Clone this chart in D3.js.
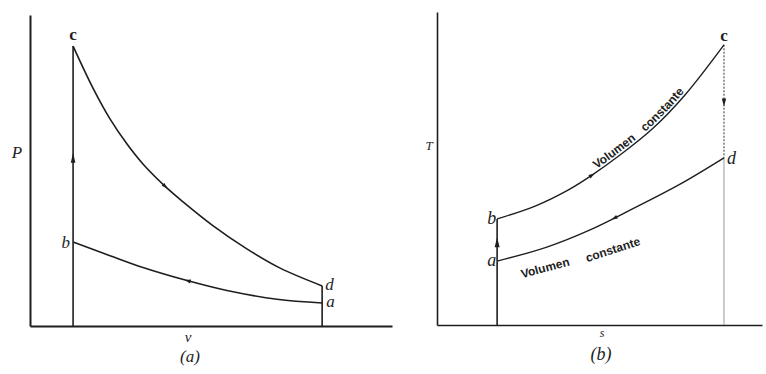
<!DOCTYPE html>
<html>
<head>
<meta charset="utf-8">
<script src="https://cdn.jsdelivr.net/npm/d3@7"></script>
<style>
  html, body { margin: 0; background: #fff; }
  svg { display: block; }
</style>
</head>
<body>
<svg id="fig" width="766" height="374"></svg>
<script>
// ---- (a) P–v diagram of the Otto cycle ----
// isentropic expansion c → d
const expansionV = [11.9, 17.4, 22.1, 26.8, 31.2, 37.8, 42.3, 50.6, 59.9, 69.1, 80.7];
const expansionP = [90.0, 76.5, 66.6, 58.5, 52.1, 44.4, 39.9, 32.2, 24.8, 18.6, 12.9];
// isentropic compression a → b
const compressionV = [80.7, 68.2, 54.4, 43.4, 31.2, 22.1, 11.9];
const compressionP = [7.4, 8.6, 11.4, 14.6, 18.8, 22.6, 27.0];
// state points a, b, c, d
const pvStateNames = ["a", "b", "c", "d"];
const pvStateV = [80.7, 11.9, 11.9, 80.7];
const pvStateP = [7.4, 27.0, 90.0, 12.9];

// ---- (b) T–s diagram of the Otto cycle ----
// constant-volume heating b → c
const heatingS = [18.5, 30.2, 40.3, 47.7, 56.3, 66.2, 76.3, 88.3];
const heatingT = [33.9, 38.0, 43.1, 47.9, 54.3, 62.6, 73.5, 89.5];
// constant-volume cooling, drawn from a (left) to d (right)
const coolingS = [18.5, 33.8, 47.1, 59.4, 74.8, 88.3];
const coolingT = [20.4, 24.9, 30.4, 36.7, 45.0, 53.4];
const tsStateNames = ["a", "b", "c", "d"];
const tsStateS = [18.5, 18.5, 88.3, 88.3];
const tsStateT = [20.4, 33.9, 89.5, 53.4];

const curveLabel = ["Volumen", "constante"];
const axisNames = { a: ["v", "P", "(a)"], b: ["s", "T", "(b)"] };

const ink = "#1e1e1e";
const svg = d3.select("#fig");
const serif = "'Liberation Serif','DejaVu Serif',serif";
const sans = "'Liberation Sans Narrow','Arial Narrow','Liberation Sans',sans-serif";

// small filled arrowhead placed part-way along a path, pointing along it
function arrowOn(g, pathSel, frac, opts = {}) {
  const node = pathSel.node();
  const L = node.getTotalLength();
  const at = L * frac;
  const p = node.getPointAtLength(at);
  const dir = opts.reverse ? -1 : 1;
  const q = node.getPointAtLength(Math.max(0, Math.min(L, at + dir * 2)));
  const ang = Math.atan2(q.y - p.y, q.x - p.x) * 180 / Math.PI;
  const len = opts.len || 7, w = opts.w || 2.2;
  g.append("path")
    .attr("d", `M${len / 2},0L${-len / 2},${-w}L${-len / 2},${w}Z`)
    .attr("transform", `translate(${p.x},${p.y}) rotate(${ang})`)
    .attr("fill", ink);
}

function bareAxes(g, x, y, width) {
  const ax = g.append("g").attr("transform", `translate(0,${y(0)})`)
    .call(d3.axisBottom(x).ticks(0).tickSizeOuter(0));
  const ay = g.append("g").attr("transform", `translate(${x(0)},0)`)
    .call(d3.axisLeft(y).ticks(0).tickSizeOuter(0));
  [ax, ay].forEach(a => a.select(".domain").attr("stroke", ink).attr("stroke-width", width));
}

// ================= panel (a) =================
{
  const x = d3.scaleLinear().domain([0, 100]).range([30, 392]);
  const y = d3.scaleLinear().domain([0, 100]).range([326, 15]);
  const g = svg.append("g");
  bareAxes(g, x, y, 2);

  const line = d3.line().x(d => x(d[0])).y(d => y(d[1])).curve(d3.curveCatmullRom.alpha(0.5));
  const st = {};
  pvStateNames.forEach((n, i) => st[n] = [pvStateV[i], pvStateP[i]]);

  const stroke = s => s.attr("fill", "none").attr("stroke", ink).attr("stroke-width", 1.6);

  // guides from the v axis up to a and b
  g.append("path").attr("d", line([[st.b[0], 0], st.b])).call(stroke);
  g.append("path").attr("d", line([[st.a[0], 0], st.a])).call(stroke);

  const ab = g.append("path").attr("d", line(d3.zip(compressionV, compressionP))).call(stroke);
  const bc = g.append("path").attr("d", line([st.b, st.c])).call(stroke);
  const cd = g.append("path").attr("d", line(d3.zip(expansionV, expansionP))).call(stroke);
  g.append("path").attr("d", line([st.d, st.a])).call(stroke);

  arrowOn(g, bc, 0.43, { len: 10, w: 2.3 });
  arrowOn(g, cd, 0.475, { len: 6, w: 2 });
  arrowOn(g, ab, 0.53, { len: 6, w: 2 });

  const lab = (t, px, py, anchor, italic = true, size = 17) =>
    g.append("text").attr("x", px).attr("y", py).attr("text-anchor", anchor)
      .attr("font-family", serif).attr("font-size", size)
      .attr("font-style", italic ? "italic" : "normal")
      .attr("font-weight", italic ? "normal" : "bold")
      .attr("fill", ink).text(t);

  lab("c", x(st.c[0]), y(st.c[1]) - 6, "middle", false, 17);
  lab("b", x(st.b[0]) - 3, y(st.b[1]) + 6, "end");
  lab("d", x(st.d[0]) + 3, y(st.d[1]) + 4, "start");
  lab("a", x(st.a[0]) + 4, y(st.a[1]) + 4, "start");

  lab(axisNames.a[1], 17, 158, "middle", true, 17);
  lab(axisNames.a[0], 188, 342, "middle", true, 15);
  lab(axisNames.a[2], 190, 362, "middle", true, 17);
}

// ================= panel (b) =================
{
  const x = d3.scaleLinear().domain([0, 100]).range([437, 762]);
  const y = d3.scaleLinear().domain([0, 100]).range([325, 12]);
  const g = svg.append("g");
  bareAxes(g, x, y, 1.6);

  const line = d3.line().x(d => x(d[0])).y(d => y(d[1])).curve(d3.curveCatmullRom.alpha(0.5));
  const st = {};
  tsStateNames.forEach((n, i) => st[n] = [tsStateS[i], tsStateT[i]]);

  const stroke = (s, w = 1.4) => s.attr("fill", "none").attr("stroke", ink).attr("stroke-width", w);

  // left vertical: axis → a → b
  g.append("path").attr("d", line([[st.a[0], 0], st.a])).call(stroke, 1.6);
  const abPath = g.append("path").attr("d", line([st.a, st.b])).call(stroke, 1.6);

  // right vertical: c → d dotted, d → axis light guide
  const cdPath = g.append("path").attr("d", line([st.c, st.d]))
    .attr("fill", "none").attr("stroke", "#555").attr("stroke-width", 1.2)
    .attr("stroke-dasharray", "2,1.5");
  g.append("path").attr("d", line([st.d, [st.d[0], 0]]))
    .attr("fill", "none").attr("stroke", "#9a9a9a").attr("stroke-width", 1);

  const heat = g.append("path").attr("id", "heatCurve")
    .attr("d", line(d3.zip(heatingS, heatingT))).call(stroke);
  const cool = g.append("path").attr("id", "coolCurve")
    .attr("d", line(d3.zip(coolingS, coolingT))).call(stroke);

  arrowOn(g, abPath, 0.45, { len: 10, w: 2.5 });
  arrowOn(g, heat, 0.36, { len: 6, w: 2 });
  arrowOn(g, cdPath, 0.51, { len: 8, w: 2.2 });
  arrowOn(g, cool, 0.5, { len: 6, w: 2, reverse: true });

  // label running along the heating curve, one word at a time
  [[curveLabel[0], "38.5%"], [curveLabel[1], "59.5%"]].forEach(([t, off]) => {
    g.append("text").attr("dy", -2.5)
      .attr("font-family", sans).attr("font-size", 12).attr("font-weight", "bold")
      .attr("fill", ink)
      .append("textPath").attr("href", "#heatCurve").attr("startOffset", off).text(t);
  });

  // label under the cooling curve
  const a0 = [x(st.a[0]), y(st.a[1])];
  [[curveLabel[0], 25, 17, -15], [curveLabel[1], 90, 1, -18]].forEach(([t, dx, dy, rot]) => {
    g.append("text").attr("transform", `translate(${a0[0] + dx},${a0[1] + dy}) rotate(${rot})`)
      .attr("font-family", sans).attr("font-size", 12).attr("font-weight", "bold")
      .attr("fill", ink).text(t);
  });

  const lab = (t, px, py, anchor, italic = true, size = 18) =>
    g.append("text").attr("x", px).attr("y", py).attr("text-anchor", anchor)
      .attr("font-family", serif).attr("font-size", size)
      .attr("font-style", italic ? "italic" : "normal")
      .attr("font-weight", italic ? "normal" : "bold")
      .attr("fill", ink).text(t);

  lab("c", x(st.c[0]), y(st.c[1]) - 4, "middle", false, 17);
  lab("d", x(st.d[0]) + 3, y(st.d[1]) + 6, "start");
  lab("b", x(st.b[0]) - 1, y(st.b[1]) + 5, "end");
  lab("a", x(st.a[0]) - 1, y(st.a[1]) + 5, "end");

  lab(axisNames.b[1], 429, 150, "middle", true, 13);
  lab(axisNames.b[0], 602, 337, "middle", true, 12);
  lab(axisNames.b[2], 601, 360, "middle", true, 18);
}
</script>
</body>
</html>
